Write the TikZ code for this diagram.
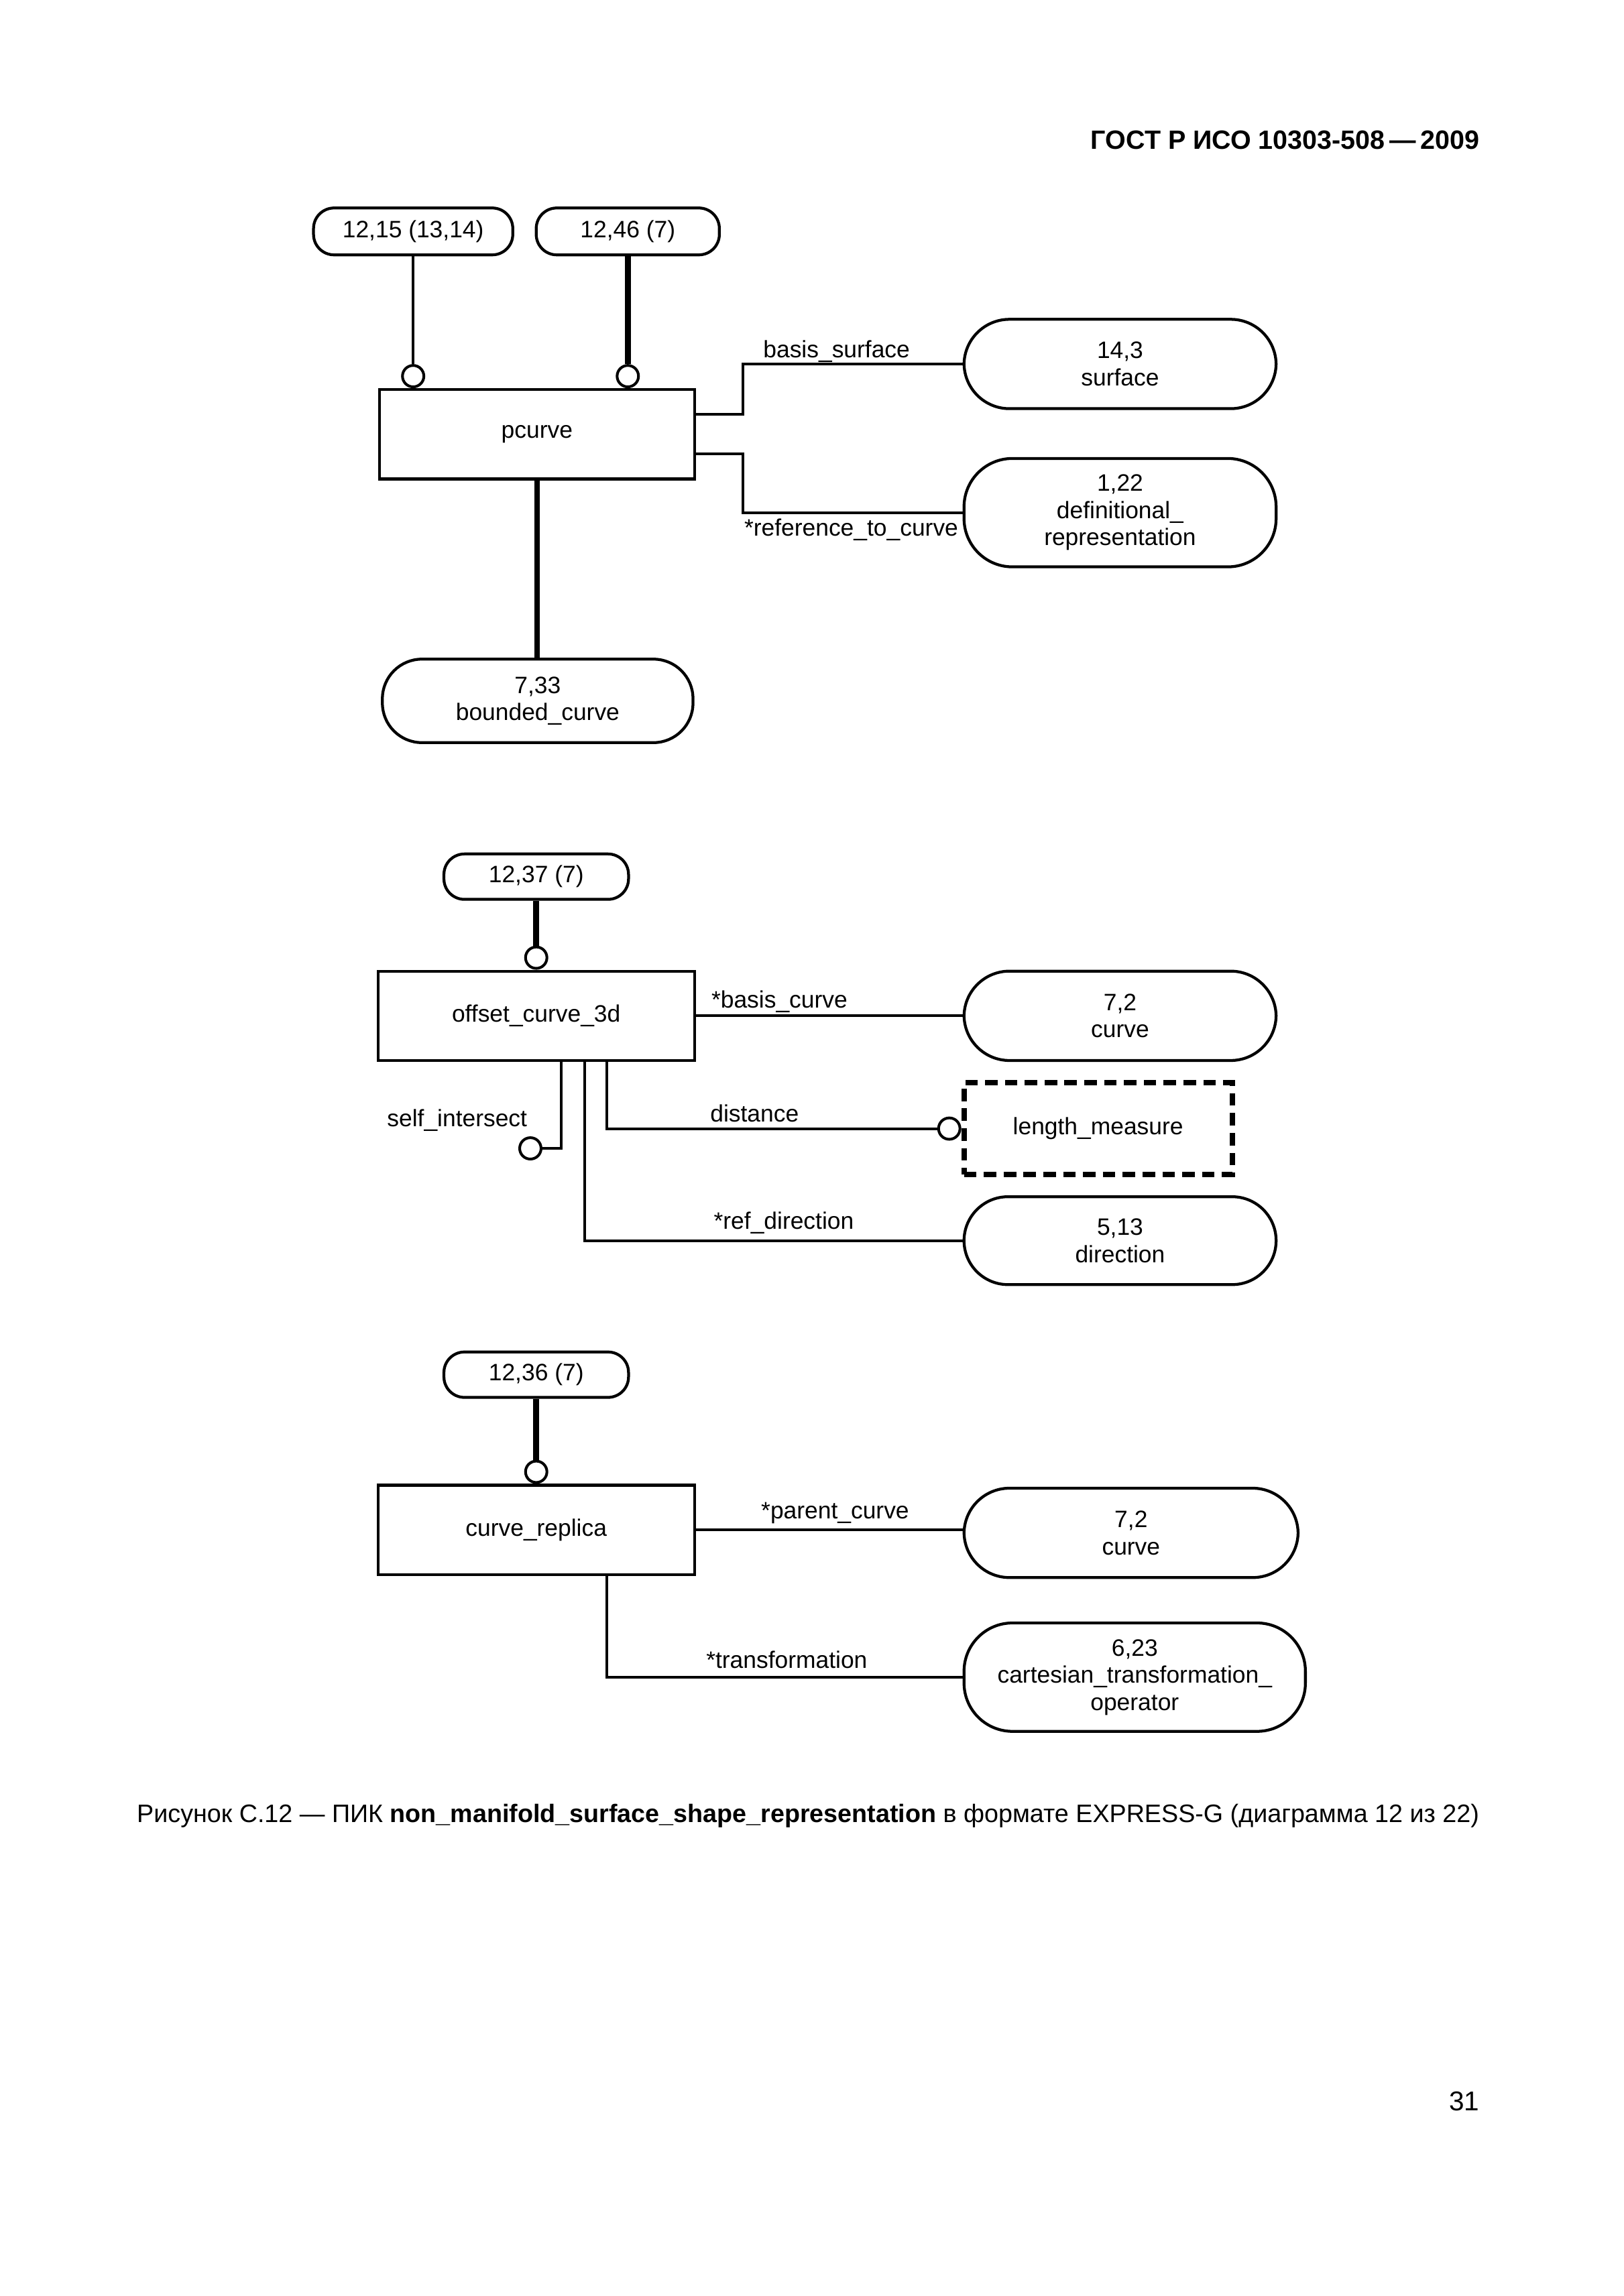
\documentclass[tikz,border=0pt]{standalone}
\usepackage{fontspec}
\setmainfont{Liberation Sans}
\usetikzlibrary{calc}
\newcommand{\pxu}{0.18953mm}
\begin{document}
\begin{tikzpicture}[x=\pxu, y=-\pxu,
  every node/.style={font=\fontsize{8.74}{10}\selectfont, inner sep=0pt, align=center},
  sz/.style 2 args={minimum width=#1*\pxu, minimum height=#2*\pxu},
  ent/.style={draw, line width=1.05pt, rectangle},
  stad/.style={draw, line width=1.05pt, rounded corners=#1*\pxu},
  dsh/.style={draw, line width=2pt, dash pattern=on 4.6pt off 2.7pt},
  oc/.style={circle, draw, line width=1pt, minimum size=14.6*\pxu, inner sep=0pt},
  lnk/.style={line width=1pt},
  lnkb/.style={line width=2.1pt},
  lbl/.style={anchor=base}
]
\useasboundingbox (0,0) rectangle (1108,1567.5);

% header
\node[anchor=base east, font=\bfseries\fontsize{9.74}{12}\selectfont] (hdr) at (1010,102) {ГОСТ Р ИСО 10303-508\,—\,2009};

% ---------- diagram 1 ----------
\node[stad=14, sz={136}{32}] (r1215) at (282,158) {12,15 (13,14)};
\node[stad=14, sz={125}{32}] (r1246) at (428.5,158) {12,46 (7)};
\node[ent, sz={215}{61}] (pc) at (366.5,296.5) {pcurve};
\node[stad=31, sz={213}{61}] (surf) at (764.5,248.5) {14,3\\surface};
\node[stad=33, sz={213}{74}] (defr) at (764.5,350) {1,22\\definitional\_\\representation};
\node[stad=27, sz={212}{57}] (bc) at (367,478.5) {7,33\\bounded\_curve};

\node[oc, anchor=south] (o1) at (pc.north -| r1215) {};
\node[oc, anchor=south] (o2) at (pc.north -| r1246) {};
\draw[lnk] (r1215) -- (o1);
\draw[lnkb] (r1246) -- (o2);
\draw[lnk] ([yshift=13.5*\pxu]pc.east) -- ++(32,0) |- (surf.west);
\draw[lnk] ([yshift=-13.5*\pxu]pc.east) -- ++(32,0) |- (defr.west);
\draw[lnkb] (pc.south) -- (pc.south |- bc.north);
\node[lbl] (lbs) at (571,244) {basis\_surface};
\node[lbl] (lrc) at (581,366) {*reference\_to\_curve};

% ---------- diagram 2 ----------
\node[stad=14, sz={126}{31}] (r1237) at (366,598.5) {12,37 (7)};
\node[ent, sz={216}{61}] (occ) at (366,693.5) {offset\_curve\_3d};
\node[stad=31, sz={213}{61}] (cv2) at (764.5,693.5) {7,2\\curve};
\node[dsh, sz={183}{63}] (lm) at (749.5,770.5) {length\_measure};
\node[stad=30, sz={213}{60}] (dir) at (764.5,847) {5,13\\direction};

\node[oc, anchor=south] (o3) at (occ.north -| r1237) {};
\draw[lnkb] (r1237) -- (o3);
\draw[lnk] (occ.east) -- (occ.east -| cv2.west);
\node[oc] (o4) at (362,784) {};
\draw[lnk] ([xshift=17*\pxu]occ.south) |- (o4.east);
\node[oc, anchor=east] (o5) at (lm.west) {};
\draw[lnk] ([xshift=48*\pxu]occ.south) |- (o5.west);
\draw[lnk] ([xshift=33*\pxu]occ.south) |- (dir.west);
\node[lbl] (lbc) at (532,688) {*basis\_curve};
\node[lbl] (lsi) at (312,769) {self\_intersect};
\node[lbl] (ldi) at (515,766) {distance};
\node[lbl] (lrd) at (535,839) {*ref\_direction};

% ---------- diagram 3 ----------
\node[stad=14, sz={126}{31}] (r1236) at (366,938.5) {12,36 (7)};
\node[ent, sz={216}{61}] (cr) at (366,1044.5) {curve\_replica};
\node[stad=31, sz={228}{61}] (cv3) at (772,1046.5) {7,2\\curve};
\node[stad=33, sz={233}{74}] (cto) at (774.5,1145) {6,23\\cartesian\_transformation\_\\operator};

\node[oc, anchor=south] (o6) at (cr.north -| r1236) {};
\draw[lnkb] (r1236) -- (o6);
\draw[lnk] (cr.east) -- (cr.east -| cv3.west);
\draw[lnk] ([xshift=48*\pxu]cr.south) |- (cto.west);
\node[lbl] (lpc) at (570,1037) {*parent\_curve};
\node[lbl] (ltr) at (537,1139) {*transformation};

% caption and page number
\node[anchor=base, font=\fontsize{9.3}{11}\selectfont] (cap) at (551.5,1244) {Рисунок С.12 — ПИК \textbf{non\_manifold\_surface\_shape\_representation} в формате EXPRESS-G (диаграмма 12 из 22)};
\node[anchor=base east, font=\fontsize{10}{12}\selectfont] (pg) at (1010,1441) {31};
\end{tikzpicture}
\end{document}
